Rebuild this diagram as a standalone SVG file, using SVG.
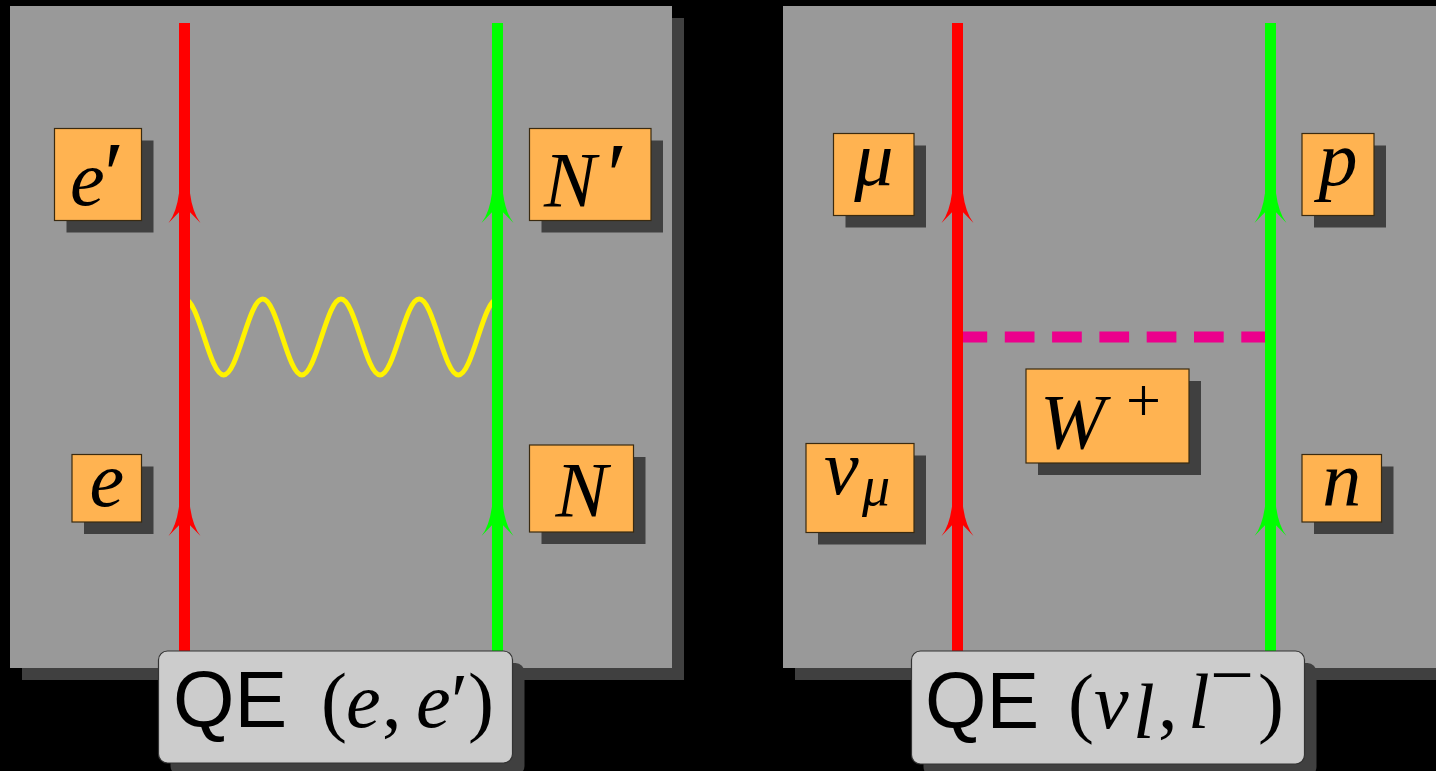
<svg xmlns="http://www.w3.org/2000/svg" width="1436" height="771" viewBox="0 0 1436 771">
<defs>
<style>
.panel{fill:#999999}
.shadow{fill:#404040}
.lbl{fill:#ffb351;stroke:#3a2a10;stroke-width:1.2}
.cap{fill:#cccccc;stroke:#333333;stroke-width:1.2}
.fer-r{stroke:#ff0000;stroke-width:11;fill:none}
.fer-g{stroke:#00ff00;stroke-width:11;fill:none}
.photon{stroke:#fff200;stroke-width:5;fill:none}
.wbos{stroke:#ec008c;stroke-width:11;fill:none;stroke-dasharray:29.7 17.6}
.m{font-family:"Liberation Serif","Times New Roman",serif;font-style:italic;font-size:78px;fill:#000}
.up{font-style:normal}
.sans{font-family:"Liberation Sans",Arial,sans-serif;font-size:79px;fill:#000}
</style>
<path id="ah" d="M0,-40 L5.3,-31 Q8,-10 16,0 L5.3,-11 L-5.3,-11 L-16,0 Q-8,-10 -5.3,-31 Z"/>
</defs>
<rect width="1436" height="771" fill="#000"/>

<g id="panel-left">
<rect class="shadow" x="22" y="18" width="662" height="662"/>
<rect class="panel" x="10" y="6" width="662" height="662"/>
</g>
<g id="panel-right">
<rect class="shadow" x="795" y="18" width="662" height="662"/>
<rect class="panel" x="783" y="6" width="662" height="662"/>
</g>

<g id="connectors">
<path class="photon" d="M184.5,299 c7.08,0 13.18,18.53 19.56,38 c6.38,19.47 12.48,38 19.56,38 c7.08,0 13.18,-18.53 19.56,-38 c6.38,-19.47 12.48,-38 19.56,-38 c7.08,0 13.18,18.53 19.56,38 c6.38,19.47 12.48,38 19.56,38 c7.08,0 13.18,-18.53 19.56,-38 c6.38,-19.47 12.48,-38 19.56,-38 c7.08,0 13.18,18.53 19.56,38 c6.38,19.47 12.48,38 19.56,38 c7.08,0 13.18,-18.53 19.56,-38 c6.38,-19.47 12.48,-38 19.56,-38 c7.08,0 13.18,18.53 19.56,38 c6.38,19.47 12.48,38 19.56,38 c7.08,0 13.18,-18.53 19.56,-38 c6.38,-19.47 12.48,-38 19.56,-38"/>
<line class="wbos" x1="957.5" y1="337" x2="1270.5" y2="337"/>
<line class="fer-r" x1="184.5" y1="651" x2="184.5" y2="337"/>
<line class="fer-r" x1="184.5" y1="337" x2="184.5" y2="23"/>
<line class="fer-g" x1="497.5" y1="651" x2="497.5" y2="337"/>
<line class="fer-g" x1="497.5" y1="337" x2="497.5" y2="23"/>
<line class="fer-r" x1="957.5" y1="651" x2="957.5" y2="337"/>
<line class="fer-r" x1="957.5" y1="337" x2="957.5" y2="23"/>
<line class="fer-g" x1="1270.5" y1="651" x2="1270.5" y2="337"/>
<line class="fer-g" x1="1270.5" y1="337" x2="1270.5" y2="23"/>
<use href="#ah" x="184.5" y="223" fill="#ff0000"/>
<use href="#ah" x="184.5" y="536" fill="#ff0000"/>
<use href="#ah" x="497.5" y="223" fill="#00ff00"/>
<use href="#ah" x="497.5" y="536" fill="#00ff00"/>
<use href="#ah" x="957.5" y="223" fill="#ff0000"/>
<use href="#ah" x="957.5" y="536" fill="#ff0000"/>
<use href="#ah" x="1270.5" y="223" fill="#00ff00"/>
<use href="#ah" x="1270.5" y="536" fill="#00ff00"/>
</g>

<g id="node-eprime">
<rect class="shadow" x="66.5" y="140.5" width="87" height="92"/>
<rect class="lbl" x="54.5" y="128.5" width="87" height="92"/>
<text class="m" x="70" y="205">e<tspan class="up" x="104" font-size="92">′</tspan></text>
</g>
<g id="node-e">
<rect class="shadow" x="84" y="466.5" width="69.5" height="67.5"/>
<rect class="lbl" x="72" y="454.5" width="69.5" height="67.5"/>
<text class="m" x="106.75" y="506" text-anchor="middle">e</text>
</g>
<g id="node-Nprime">
<rect class="shadow" x="541.5" y="140.5" width="121.5" height="92"/>
<rect class="lbl" x="529.5" y="128.5" width="121.5" height="92"/>
<text class="m" x="544" y="205.5">N<tspan class="up" x="607" font-size="92">′</tspan></text>
</g>
<g id="node-N">
<rect class="shadow" x="541.5" y="457" width="104" height="87"/>
<rect class="lbl" x="529.5" y="445" width="104" height="87"/>
<text class="m" x="581.5" y="516" text-anchor="middle">N</text>
</g>
<g id="node-mu">
<rect class="shadow" x="845.5" y="145.5" width="80.5" height="82"/>
<rect class="lbl" x="833.5" y="133.5" width="80.5" height="82"/>
<text class="m" x="873.75" y="185" text-anchor="middle" font-size="84">μ</text>
</g>
<g id="node-p">
<rect class="shadow" x="1314" y="145.5" width="72" height="82"/>
<rect class="lbl" x="1302" y="133.5" width="72" height="82"/>
<text class="m" x="1338" y="185" text-anchor="middle">p</text>
</g>
<g id="node-numu">
<rect class="shadow" x="818" y="455.5" width="108" height="89"/>
<rect class="lbl" x="806" y="443.5" width="108" height="89"/>
<text class="m" x="824" y="493.5" font-size="82">ν<tspan x="862" y="505" font-size="56">μ</tspan></text>
</g>
<g id="node-n">
<rect class="shadow" x="1314" y="466.5" width="79.5" height="67.5"/>
<rect class="lbl" x="1302" y="454.5" width="79.5" height="67.5"/>
<text class="m" x="1341.75" y="506" text-anchor="middle">n</text>
</g>
<g id="node-W">
<rect class="shadow" x="1038" y="381" width="163" height="94"/>
<rect class="lbl" x="1026" y="369" width="163" height="94"/>
<text class="m" x="1040" y="447.5" font-size="90">W<tspan class="up" x="1126" y="421" font-size="62">+</tspan></text>
</g>

<g id="caption-left">
<rect class="shadow" x="170.5" y="663" width="354" height="112" rx="9"/>
<rect class="cap" x="158.5" y="651" width="354" height="112" rx="9"/>
<text y="727"><tspan class="sans" x="173">QE</tspan><tspan class="m up" x="321" font-size="86">(</tspan><tspan class="m" x="346" font-size="72">e</tspan><tspan class="m up" x="382" font-size="72">,</tspan><tspan class="m" x="416" font-size="72">e</tspan><tspan class="m up" x="451" font-size="84">′</tspan><tspan class="m up" x="468" font-size="86">)</tspan></text>
</g>
<g id="caption-right">
<rect class="shadow" x="923.5" y="663" width="393" height="113" rx="9"/>
<rect class="cap" x="911.5" y="651" width="393" height="113" rx="9"/>
<text y="728"><tspan class="sans" x="925">QE</tspan><tspan class="m up" x="1068" font-size="86">(</tspan><tspan class="m" x="1094" font-size="72">ν</tspan><tspan class="m" x="1133" y="738" font-size="40">l</tspan><tspan class="m up" x="1158" y="728" font-size="72">,</tspan><tspan class="m" x="1188" font-size="72">l</tspan><tspan class="m up" x="1210" y="701" font-size="56">−</tspan><tspan class="m up" x="1258" y="728" font-size="86">)</tspan></text>
</g>
</svg>
